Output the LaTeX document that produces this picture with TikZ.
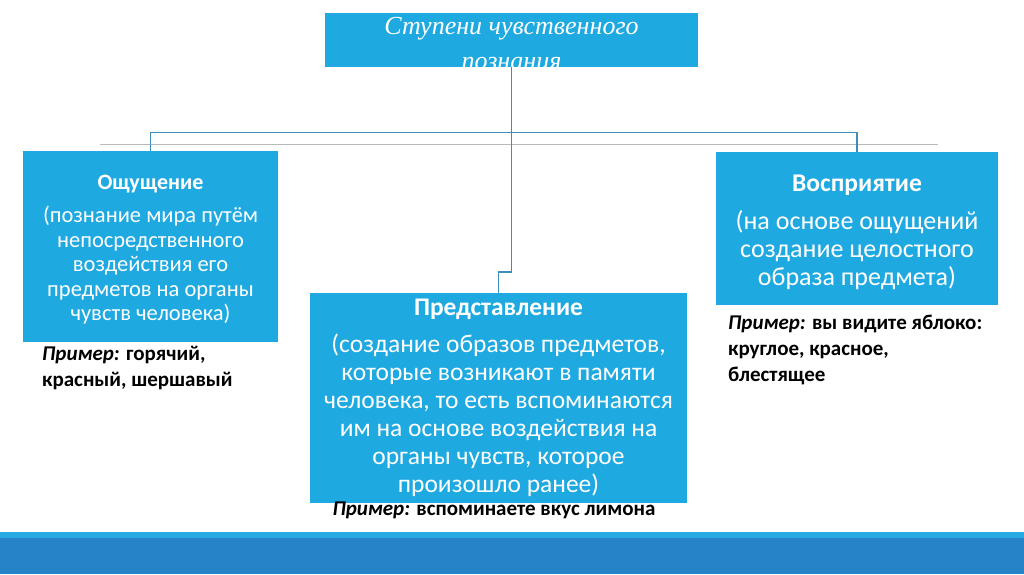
\documentclass[tikz,border=0pt]{standalone}
\usepackage{fontspec}
\setmainfont{Carlito}
\newfontfamily\titlefont{Liberation Serif}
\definecolor{boxblue}{HTML}{1FA9E1}
\definecolor{linkblue}{HTML}{3C8EBC}
\definecolor{bandlight}{HTML}{29ABE2}
\definecolor{banddark}{HTML}{2683C6}
\tikzset{
  stagebox/.style={fill=boxblue, draw=none, text=white, align=center, inner sep=0pt},
  link/.style={draw=linkblue, line width=1.2pt},
  example/.style={align=left, anchor=north west, inner sep=0pt, font=\bfseries\fontsize{21}{26}\selectfont}
}
\begin{document}
\begin{tikzpicture}[x=1pt,y=-1pt]
\useasboundingbox (0,0) rectangle (1024,574);
% band at the bottom
\fill[bandlight] (0,532) rectangle (1024,538);
\fill[banddark] (0,538) rectangle (1024,574);
% thin gray rule
\draw[gray!55, line width=1pt] (100,144.5) -- (938,144.5);
% boxes
\node[stagebox, minimum width=373pt, minimum height=54pt] (top) at (511.5,40) {};
\node[font=\titlefont\itshape\fontsize{26}{35}\selectfont, text=white, align=center] (title) at (511.5,44) {Ступени чувственного\\ познания};
\node[stagebox, minimum width=255pt, minimum height=191pt, font=\fontsize{22.5}{24.5}\selectfont] (sens) at (150.5,246.5)
  {\rule{0pt}{21pt}{\bfseries\fontsize{22}{24.5}\selectfont Ощущение}\\[8.5pt] (познание мира путём\\ непосредственного\\ воздействия его\\ предметов на органы\\ чувств человека)};
\node[stagebox, minimum width=282pt, minimum height=153pt, font=\fontsize{26}{28}\selectfont] (perc) at (857,228.5)
  {\rule{0pt}{24pt}{\bfseries\fontsize{25.5}{28}\selectfont Восприятие}\\[10pt] (на основе ощущений\\ создание целостного\\ образа предмета)};
\node[stagebox, minimum width=377pt, minimum height=210pt, font=\fontsize{25.5}{28}\selectfont] (repr) at (498.5,398)
  {{\bfseries\fontsize{25.4}{28}\selectfont Представление}\\[9pt] (создание образов предметов,\\ которые возникают в памяти\\ человека, то есть вспоминаются\\ им на основе воздействия на\\ органы чувств, которое\\ произошло ранее)};
% examples
\node[example] (exsens) at (42,346) {\textit{Пример:} горячий,\\ красный, шершавый};
\node[example] (experc) at (728,315) {\textit{Пример:} вы видите яблоко:\\ круглое, красное,\\ блестящее};
\node[example, anchor=north] (exrepr) at (494,502) {\textit{Пример:} вспоминаете вкус лимона};
% connectors
\coordinate (bar) at (511.5,132.5);
\coordinate (jog) at (511.5,272);
\draw[link] (sens.north) |- (bar) -| (perc.north);
\draw[link] (top.south) -- (jog) -| (repr.north);
\end{tikzpicture}
\end{document}
